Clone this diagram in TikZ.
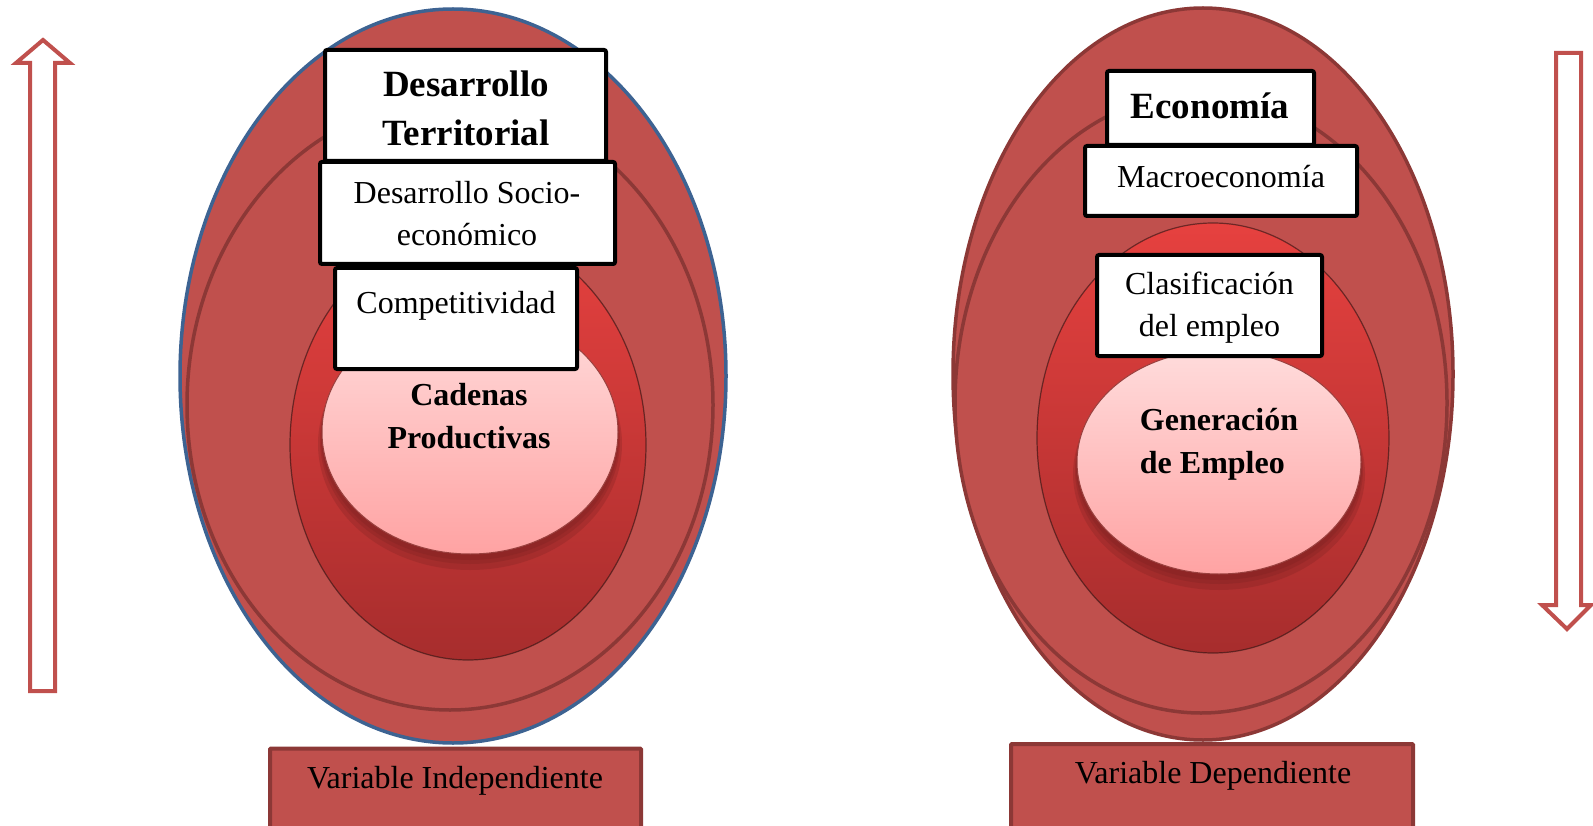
\documentclass[tikz,border=0pt]{standalone}
\usepackage{fontspec}
\setmainfont{Liberation Serif}
\definecolor{eggred}{HTML}{C0504D}
\definecolor{eggline}{HTML}{8C3836}
\definecolor{eggblue}{HTML}{3D6392}
\definecolor{coretop}{HTML}{E6413F}
\definecolor{coremid}{HTML}{C93636}
\definecolor{corebot}{HTML}{A72D2D}
\definecolor{pinktop}{HTML}{FFDCDC}
\definecolor{pinkbot}{HTML}{FFA3A3}
\begin{document}
\begin{tikzpicture}[x=1pt,y=-1pt,
  egg/.style={fill=eggred, draw=eggline, line width=3.5},
  core/.style={top color=coretop, middle color=coremid, bottom color=corebot},
  coreedge/.style={draw=black!70!eggline, line width=1.2, opacity=.6},
  pinkcore/.style={top color=pinktop, bottom color=pinkbot},
  pinkedge/.style={draw=eggred!80!black, line width=1},
  pinkshadow/.style={fill=black!30!corebot, opacity=.25},
  wbox/.style={draw=black, fill=white, line width=4, rounded corners=2, inner sep=0pt},
  varbox/.style={fill=eggred, draw=eggline, line width=4, rounded corners=1, inner sep=0pt},
  arrowline/.style={draw=eggred, fill=white, line width=4, line join=miter},
  reg/.style={font=\fontsize{32}{42}\selectfont, align=center, inner sep=0pt},
  bigbold/.style={font=\fontsize{37}{49}\selectfont\bfseries, align=center, inner sep=0pt},
  midbold/.style={font=\fontsize{32}{43}\selectfont\bfseries, align=center, inner sep=0pt}]
\useasboundingbox (0,0) rectangle (1593,826);

% arrows
\draw[arrowline] (30,691) -- (30,63) -- (16,63) -- (43,40) -- (70,63) -- (55,63) -- (55,691) -- cycle;
\draw[arrowline] (1556,53) -- (1581,53) -- (1581,605) -- (1591,605) -- (1567,629) -- (1542,605) -- (1556,605) -- cycle;

% left egg
\draw[fill=eggred, draw=eggblue, line width=3.5] (453,376) ellipse [x radius=273, y radius=367];
\draw[egg] (450,405) ellipse [x radius=263, y radius=305];
\shade[core] (468,445) ellipse [x radius=178, y radius=215];
\draw[coreedge] (468,445) ellipse [x radius=178, y radius=215];
\fill[pinkshadow] (470,444) ellipse [x radius=152, y radius=126];
\fill[pinkshadow] (470,440) ellipse [x radius=150, y radius=124];
\fill[pinkshadow] (470,437) ellipse [x radius=149, y radius=123];
\shade[pinkcore] (470,432) ellipse [x radius=148, y radius=122];
\draw[pinkedge] (470,432) ellipse [x radius=148, y radius=122];

% right egg
\draw[egg] (1203,374) ellipse [x radius=250, y radius=366];
\draw[egg] (1201,403) ellipse [x radius=246, y radius=310];
\shade[core] (1213,438) ellipse [x radius=176, y radius=215];
\draw[coreedge] (1213,438) ellipse [x radius=176, y radius=215];
\fill[pinkshadow] (1219,474) ellipse [x radius=146, y radius=116];
\fill[pinkshadow] (1219,470) ellipse [x radius=144, y radius=114];
\fill[pinkshadow] (1219,467) ellipse [x radius=143, y radius=113];
\shade[pinkcore] (1219,462) ellipse [x radius=142, y radius=112];
\draw[pinkedge] (1219,462) ellipse [x radius=142, y radius=112];

% left boxes
\node[wbox, minimum width=242, minimum height=101] (comp) at (456,318.5) {};
\node[wbox, minimum width=281, minimum height=111] (dt) at (465.5,105.5) {};
\node[wbox, minimum width=295, minimum height=102] (dse) at (467.5,213) {};
\node[bigbold] (dtt) at (466,108) {Desarrollo\\Territorial};
\node[reg] (dset) at (467,214) {Desarrollo Socio-\\económico};
\node[reg] (compt) at (456,306) {Competitividad};
\node[midbold] (cad) at (469,416) {Cadenas\\Productivas};

% right boxes
\node[wbox, minimum width=207, minimum height=74] (eco) at (1210.5,108) {};
\node[wbox, minimum width=272, minimum height=70] (mac) at (1221,181) {};
\node[wbox, minimum width=225, minimum height=101] (cla) at (1209.5,305.5) {};
\node[bigbold] (ecot) at (1210,106) {Economía};
\node[reg] (mact) at (1221,177) {Macroeconomía};
\node[reg] (clat) at (1209.5,308) {Clasificación\\del empleo};
\node[midbold, align=left] (gen) at (1219,444) {Generación\\de Empleo};

% variable boxes
\node[varbox, minimum width=371, minimum height=95] (vib) at (455.5,796) {};
\node[varbox, minimum width=402, minimum height=100] (vdb) at (1212,794) {};
\node[reg] (vit) at (455,781) {Variable Independiente};
\node[reg] (vdt) at (1213,776) {Variable Dependiente};
\end{tikzpicture}
\end{document}
